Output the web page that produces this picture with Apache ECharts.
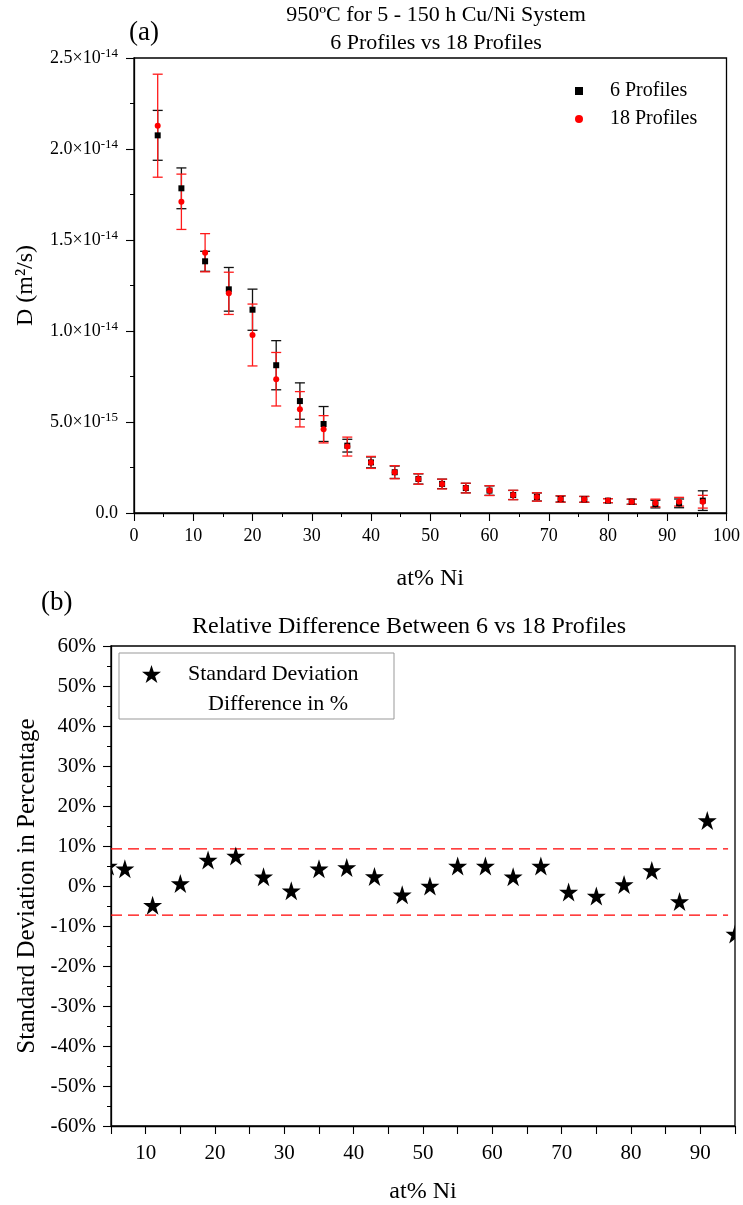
<!DOCTYPE html>
<html>
<head>
<meta charset="utf-8">
<script src="https://cdn.jsdelivr.net/npm/echarts@6/dist/echarts.min.js"></script>
<style>html,body{margin:0;padding:0;background:#fff;}#c{width:743px;height:1205px;}</style>
</head>
<body>
<div id="c"></div>
<script>
// ---- Panel (a): D in units of 1e-15 m^2/s ----
const atNi = [4,8,12,16,20,24,28,32,36,40,44,48,52,56,60,64,68,72,76,80,84,88,92,96];
const d6 = [20.75,17.84,13.83,12.29,11.17,8.12,6.15,4.89,3.70,2.78,2.24,1.87,1.60,1.37,1.23,0.99,0.88,0.77,0.75,0.68,0.62,0.49,0.53,0.68];
const err6 = [1.37,1.12,0.55,1.20,1.13,1.35,1.00,0.96,0.35,0.30,0.34,0.28,0.26,0.26,0.26,0.25,0.22,0.17,0.16,0.11,0.14,0.21,0.24,0.54];
const d18 = [21.28,17.10,14.30,12.07,9.78,7.35,5.70,4.60,3.65,2.78,2.24,1.87,1.59,1.37,1.23,0.99,0.88,0.77,0.75,0.68,0.62,0.55,0.62,0.62];
const err18 = [2.83,1.52,1.05,1.16,1.70,1.47,0.97,0.75,0.52,0.33,0.36,0.29,0.27,0.27,0.27,0.26,0.23,0.17,0.16,0.11,0.14,0.21,0.24,0.35];

// ---- Panel (b): relative difference in % ----
const atNiB = [4.6,7,11,15,19,23,27,31,35,39,43,47,51,55,59,63,67,71,75,79,83,87,91,95];
const diffPct = [5.0,4.3,-4.8,0.6,6.5,7.5,2.3,-1.2,4.3,4.6,2.4,-2.2,0.0,5.0,5.0,2.3,5.0,-1.5,-2.5,0.4,3.9,-3.9,16.4,-12.0];
const upperLimit = [[5,9.3],[94,9.3]];
const lowerLimit = [[5,-7.3],[94,-7.3]];

const SERIF = '"Liberation Serif","Times New Roman",serif';
const STAR_D = 'M50,0 L61.2,34.5 L97.6,34.5 L68.2,55.9 L79.4,90.5 L50,69.1 L20.6,90.5 L31.8,55.9 L2.4,34.5 L38.8,34.5 Z';
const STAR = 'path://' + STAR_D;

function sciLabel(v){
  if (v === 0) return '{m|0.0}';
  const real = v * 1e-15;
  const e = Math.floor(Math.log10(real) + 1e-9);
  const m = real / Math.pow(10, e);
  return '{m|' + m.toFixed(1) + '×10}{s|' + e + '}';
}

function errBar(color){
  return function(params, api){
    const x = api.value(0), y = api.value(1), e = api.value(2);
    const t = api.coord([x, y + e]);
    const b = api.coord([x, y - e]);
    const hw = 5;
    const st = {stroke: color, lineWidth: 1.3};
    return {type:'group', children:[
      {type:'line', shape:{x1:t[0], y1:t[1], x2:b[0], y2:b[1]}, style:st},
      {type:'line', shape:{x1:t[0]-hw, y1:t[1], x2:t[0]+hw, y2:t[1]}, style:st},
      {type:'line', shape:{x1:b[0]-hw, y1:b[1], x2:b[0]+hw, y2:b[1]}, style:st}
    ]};
  };
}

function starItem(params, api){
  const p = api.coord([api.value(0), api.value(1)]);
  const s = 19;
  return {type:'path', shape:{pathData:STAR_D, x:p[0]-s/2, y:p[1]-s/2, width:s, height:s, layout:'cover'},
          style:{fill:'#000'}};
}

const axisBase = {
  axisLine:{show:true, onZero:false, lineStyle:{color:'#000', width:1.3}},
  axisTick:{show:true, inside:false, length:8, lineStyle:{color:'#000', width:1.1}},
  minorTick:{show:true, splitNumber:2, length:4, lineStyle:{color:'#000', width:1}},
  splitLine:{show:false},
  nameTextStyle:{fontFamily:SERIF, fontSize:24, color:'#000'}
};

const chart = echarts.init(document.getElementById('c'), null, {renderer:'canvas'});
chart.setOption({
  backgroundColor:'#fff',
  animation:false,
  title:[
    {text:'950ºC for 5 - 150 h Cu/Ni System\n6 Profiles vs 18 Profiles', left:436, top:1, padding:0, textAlign:'center',
     textStyle:{fontFamily:SERIF, fontSize:22, fontWeight:'normal', color:'#000', lineHeight:28}},
    {text:'(a)', left:124, top:14, textStyle:{fontFamily:SERIF, fontSize:27, fontWeight:'normal', color:'#000'}},
    {text:'(b)', left:36, top:584, textStyle:{fontFamily:SERIF, fontSize:27, fontWeight:'normal', color:'#000'}},
    {text:'Relative Difference Between 6 vs 18 Profiles', left:192, top:614, padding:0,
     textStyle:{fontFamily:SERIF, fontSize:24, fontWeight:'normal', color:'#000', lineHeight:26}}
  ],
  grid:[
    {left:134, right:16, top:58, height:455, show:true, borderColor:'#000', borderWidth:1.3, backgroundColor:'transparent'},
    {left:111, right:8, top:646, height:482, show:true, borderColor:'#000', borderWidth:1.3, backgroundColor:'transparent'}
  ],
  legend:[
    {data:['6 Profiles','18 Profiles'], orient:'vertical', left:570, top:76, itemWidth:8, itemHeight:8, itemGap:8,
     textStyle:{fontFamily:SERIF, fontSize:20, color:'#000', padding:[0,0,0,22]}},
    {data:[{name:'Standard Deviation', icon:STAR}], orient:'vertical', left:137, top:658, itemWidth:19, itemHeight:19,
     formatter:function(){return '{a|Standard Deviation}\n{b|Difference in %}';},
     textStyle:{color:'#000', padding:[30,0,0,22],
       rich:{a:{fontFamily:SERIF, fontSize:22, color:'#000', lineHeight:30},
             b:{fontFamily:SERIF, fontSize:22, color:'#000', lineHeight:30, padding:[0,0,0,20]}}}}
  ],
  graphic:[
    {type:'rect', shape:{x:119, y:653, width:275, height:66}, style:{fill:'none', stroke:'#999', lineWidth:1}, z:10}
  ],
  xAxis:[
    Object.assign({}, axisBase, {gridIndex:0, type:'value', min:0, max:100, interval:10,
      name:'at% Ni', nameLocation:'middle', nameGap:54,
      axisLabel:{fontFamily:SERIF, fontSize:18, color:'#000', margin:14}}),
    Object.assign({}, axisBase, {gridIndex:1, type:'value', min:5, max:95, interval:5,
      minorTick:{show:false},
      name:'at% Ni', nameLocation:'middle', nameGap:54,
      axisLabel:{fontFamily:SERIF, fontSize:21, color:'#000', margin:17,
        formatter:function(v){return (Math.round(v) % 10 === 0) ? String(Math.round(v)) : '';}}})
  ],
  yAxis:[
    Object.assign({}, axisBase, {gridIndex:0, type:'value', min:0, max:25, interval:5,
      name:'D (m²/s)', nameLocation:'middle', nameGap:96, nameRotate:90,
      axisLabel:{color:'#000', margin:16, formatter:sciLabel,
        rich:{m:{fontFamily:SERIF, fontSize:18, color:'#000'},
              s:{fontFamily:SERIF, fontSize:13, color:'#000', padding:[0,0,9,0]}}}}),
    Object.assign({}, axisBase, {gridIndex:1, type:'value', min:-60, max:60, interval:10,
      name:'Standard Deviation in Percentage', nameLocation:'middle', nameGap:66, nameRotate:90,
      nameTextStyle:{fontFamily:SERIF, fontSize:25, color:'#000'},
      axisLabel:{fontFamily:SERIF, fontSize:21, color:'#000', margin:15,
        formatter:function(v){return Math.round(v) + '%';}}})
  ],
  series:[
    {name:'6 Profiles err', type:'custom', xAxisIndex:0, yAxisIndex:0, renderItem:errBar('#111'),
     encode:{x:0, y:1}, data:atNi.map((x,i)=>[x, d6[i], err6[i]]), z:2},
    {name:'18 Profiles err', type:'custom', xAxisIndex:0, yAxisIndex:0, renderItem:errBar('#ff1a1a'),
     encode:{x:0, y:1}, data:atNi.map((x,i)=>[x, d18[i], err18[i]]), z:3},
    {name:'6 Profiles', type:'scatter', xAxisIndex:0, yAxisIndex:0, symbol:'rect', symbolSize:6,
     itemStyle:{color:'#000', opacity:1}, data:atNi.map((x,i)=>[x, d6[i]]), z:4},
    {name:'18 Profiles', type:'scatter', xAxisIndex:0, yAxisIndex:0, symbol:'circle', symbolSize:6,
     itemStyle:{color:'#ff0000', opacity:1}, data:atNi.map((x,i)=>[x, d18[i]]), z:5},
    {name:'upper', type:'line', xAxisIndex:1, yAxisIndex:1, data:upperLimit, symbol:'none',
     lineStyle:{color:'#ff0000', width:1.3, type:[11,6]}, z:2, silent:true},
    {name:'lower', type:'line', xAxisIndex:1, yAxisIndex:1, data:lowerLimit, symbol:'none',
     lineStyle:{color:'#ff0000', width:1.3, type:[11,6]}, z:2, silent:true},
    {name:'Standard Deviation', type:'custom', xAxisIndex:1, yAxisIndex:1, renderItem:starItem, clip:true,
     encode:{x:0, y:1}, itemStyle:{color:'#000'}, data:atNiB.map((x,i)=>[x, diffPct[i]]), z:5}
  ]
});
</script>
</body>
</html>
